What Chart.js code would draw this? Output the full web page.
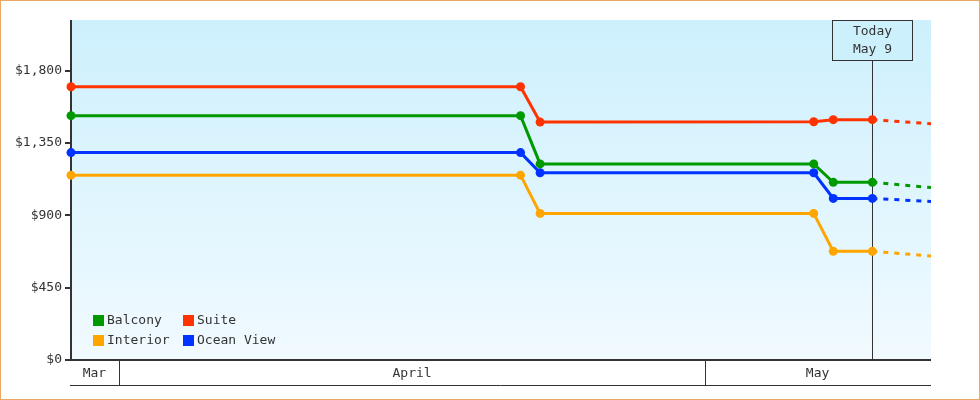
<!DOCTYPE html>
<html>
<head>
<meta charset="utf-8">
<title>Cabin prices</title>
<script src="https://cdn.jsdelivr.net/npm/chart.js@4.4.1/dist/chart.umd.min.js"></script>
<style>
  html, body { margin: 0; padding: 0; background: #fff; }
  #wrap { width: 980px; height: 400px; position: relative; }
</style>
</head>
<body>
<div id="wrap"><canvas id="priceChart" width="980" height="400"></canvas></div>
<script>
// price history (one point per change, at noon of each day)
const dates = ['2024-03-29', '2024-04-21', '2024-04-22', '2024-05-06', '2024-05-07', '2024-05-09'];
const balcony = [1520, 1520, 1220, 1220, 1105, 1105];
const suite = [1700, 1700, 1480, 1482, 1495, 1495];
const interior = [1150, 1150, 912, 912, 676, 676];
const oceanView = [1290, 1290, 1165, 1165, 1005, 1005];

// projection from today to the end of the axis
const projDates = ['2024-05-09', '2024-05-12'];
const balconyProj = [1105, 1073];
const suiteProj = [1495, 1470];
const interiorProj = [676, 647];
const oceanViewProj = [1005, 986];

const yTicks = [0, 450, 900, 1350, 1800];
const yTickLabels = ['$0', '$450', '$900', '$1,350', '$1,800'];
const yMax = 2115;

const monthLabels = ['Mar', 'April', 'May'];
const monthStarts = ['2024-03-01', '2024-04-01', '2024-05-01', '2024-06-01'];

const todayDate = '2024-05-09';
const todayLabel = ['Today', 'May 9'];

const FONT = "'DejaVu Sans Mono', monospace";
const INK = '#333333';

// day number at noon, so points sit mid-day
function toDay(s, noon) {
  const p = s.split('-').map(Number);
  return Date.UTC(p[0], p[1] - 1, p[2]) / 864e5 + (noon ? 0.5 : 0);
}

function pts(ds, vals) {
  return ds.map((d, i) => ({ x: toDay(d, true), y: vals[i] }));
}

const series = [
  { label: 'Balcony', color: '#009900', vals: balcony, proj: balconyProj },
  { label: 'Suite', color: '#ff3300', vals: suite, proj: suiteProj },
  { label: 'Interior', color: '#ffa500', vals: interior, proj: interiorProj },
  { label: 'Ocean View', color: '#0033ff', vals: oceanView, proj: oceanViewProj }
];

const datasets = [];
series.forEach(s => {
  datasets.push({
    label: s.label,
    data: pts(dates, s.vals),
    borderColor: s.color,
    backgroundColor: s.color,
    borderWidth: 3,
    pointRadius: 4.5,
    pointHoverRadius: 4.5,
    pointBorderWidth: 0,
    tension: 0,
    fill: false,
    clip: false
  });
  datasets.push({
    label: s.label + ' (projected)',
    data: pts(projDates, s.proj),
    borderColor: s.color,
    borderWidth: 3,
    borderDash: [5, 6],
    pointRadius: 0,
    tension: 0,
    fill: false
  });
});

// background, axes, today marker, month band, legend
const decor = {
  id: 'decor',
  beforeDatasetsDraw(chart) {
    const { ctx, chartArea: a, scales } = chart;
    const g = ctx.createLinearGradient(0, a.top, 0, a.bottom);
    g.addColorStop(0, '#cdf0fd');
    g.addColorStop(1, '#f1faff');
    ctx.save();
    ctx.fillStyle = g;
    ctx.fillRect(a.left, a.top, a.right - a.left, a.bottom - a.top);

    // y axis line and tick marks
    ctx.fillStyle = INK;
    ctx.fillRect(a.left - 1, a.top, 2, a.bottom - a.top);
    yTicks.forEach(v => {
      const y = Math.round(scales.y.getPixelForValue(v));
      ctx.fillRect(a.left - 6, y - 1, 6, 2);
    });
    // bottom axis line
    ctx.fillRect(a.left - 1, a.bottom - 1, a.right - a.left + 1, 2);

    // today line + box
    const tx = Math.round(scales.x.getPixelForValue(toDay(todayDate, true))) + 0.5;
    ctx.strokeStyle = INK;
    ctx.lineWidth = 1;
    ctx.beginPath();
    ctx.moveTo(tx, a.top + 40);
    ctx.lineTo(tx, a.bottom);
    ctx.stroke();
    ctx.fillStyle = '#cdf0fd';
    ctx.fillRect(tx - 40, a.top + 0.5, 80, 40);
    ctx.strokeRect(tx - 40, a.top + 0.5, 80, 40);
    ctx.fillStyle = INK;
    ctx.font = '13px ' + FONT;
    ctx.textAlign = 'center';
    ctx.textBaseline = 'middle';
    ctx.fillText(todayLabel[0], tx, a.top + 12);
    ctx.fillText(todayLabel[1], tx, a.top + 30);
    ctx.restore();
  },
  afterDraw(chart) {
    const { ctx, chartArea: a, scales } = chart;
    const x = scales.x;
    ctx.save();
    ctx.strokeStyle = INK;

    // month band
    ctx.lineWidth = 1;
    ctx.beginPath();
    ctx.moveTo(a.left - 1, a.bottom + 25.5);
    ctx.lineTo(a.right, a.bottom + 25.5);
    ctx.stroke();
    ctx.font = '13px ' + FONT;
    ctx.fillStyle = INK;
    ctx.textAlign = 'center';
    ctx.textBaseline = 'middle';
    monthLabels.forEach((m, i) => {
      const s = Math.max(x.getPixelForValue(toDay(monthStarts[i])), a.left);
      const e = Math.min(x.getPixelForValue(toDay(monthStarts[i + 1])), a.right);
      if (i > 0) {
        const sx = Math.round(s) - 0.5;
        ctx.beginPath();
        ctx.moveTo(sx, a.bottom);
        ctx.lineTo(sx, a.bottom + 25);
        ctx.stroke();
      }
      ctx.fillText(m, (s + e) / 2 - 1, a.bottom + 13.5);
    });

    // legend, two columns inside plot
    const cols = [a.left + 22, a.left + 112];
    const rows = [a.bottom - 40, a.bottom - 20];
    ctx.textAlign = 'left';
    series.forEach((s, i) => {
      const cx = cols[i % 2];
      const cy = rows[Math.floor(i / 2)];
      ctx.fillStyle = s.color;
      ctx.fillRect(cx, cy - 5, 11, 11);
      ctx.fillStyle = INK;
      ctx.fillText(s.label, cx + 14, cy + 1);
    });

    // outer frame
    ctx.strokeStyle = '#eba862';
    ctx.strokeRect(0.5, 0.5, chart.width - 1, chart.height - 1);
    ctx.restore();
  }
};

const canvas = document.getElementById('priceChart');
new Chart(canvas, {
  type: 'line',
  data: { datasets: datasets },
  options: {
    responsive: false,
    animation: false,
    layout: { padding: { left: 0, right: 49, top: 20, bottom: 40 } },
    plugins: {
      legend: { display: false },
      tooltip: { enabled: false }
    },
    scales: {
      x: {
        type: 'linear',
        display: false,
        min: toDay(dates[0], true),
        max: toDay(projDates[1], true)
      },
      y: {
        min: 0,
        max: yMax,
        afterFit(scale) { scale.width = 71; },
        afterBuildTicks(scale) { scale.ticks = yTicks.map(v => ({ value: v })); },
        border: { display: false },
        grid: { display: false, drawTicks: false },
        ticks: {
          color: INK,
          padding: 9,
          font: { family: FONT, size: 13 },
          callback: (v) => yTickLabels[yTicks.indexOf(v)]
        }
      }
    }
  },
  plugins: [decor]
});
</script>
</body>
</html>
